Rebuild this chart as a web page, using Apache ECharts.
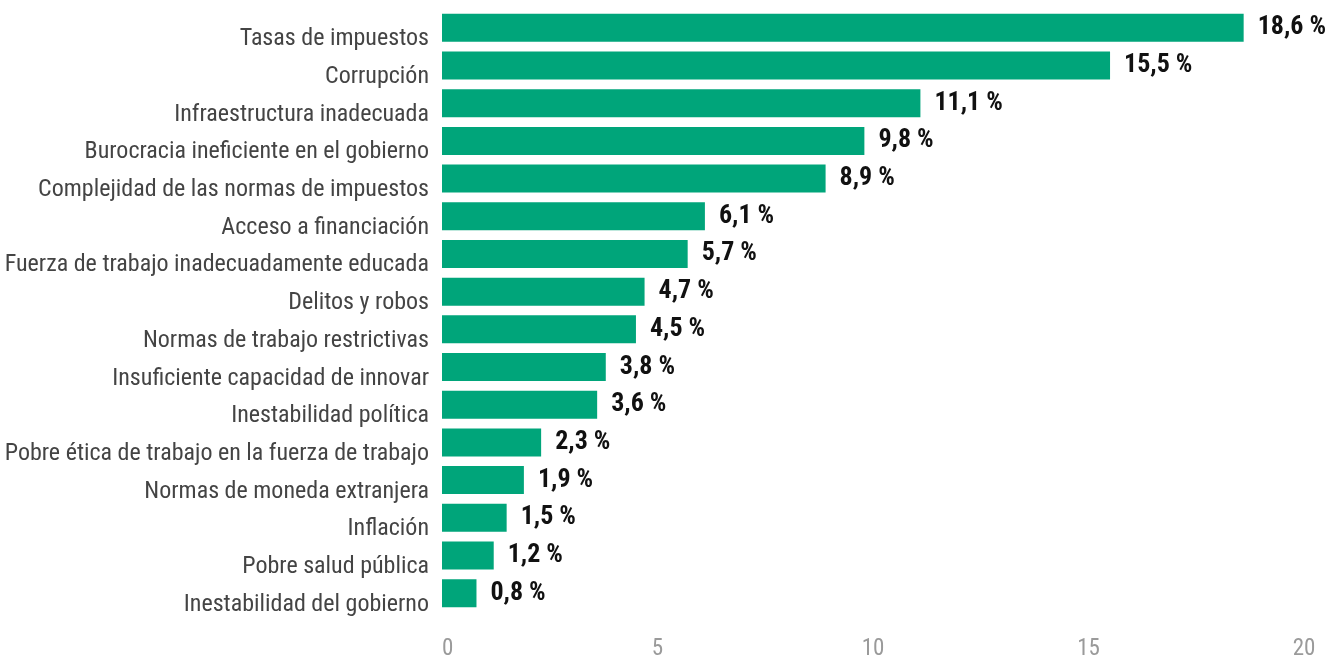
<!DOCTYPE html>
<html>
<head>
<meta charset="utf-8">
<script src="https://cdn.jsdelivr.net/npm/echarts@6/dist/echarts.min.js"></script>
<style>
  html, body { margin: 0; padding: 0; background: #fff; }
  #chart { width: 1332px; height: 656px; }
</style>
</head>
<body>
<div id="chart"></div>
<script>
// categorías de arriba a abajo
const categories = [
  'Tasas de impuestos',
  'Corrupción',
  'Infraestructura inadecuada',
  'Burocracia ineficiente en el gobierno',
  'Complejidad de las normas de impuestos',
  'Acceso a financiación',
  'Fuerza de trabajo inadecuadamente educada',
  'Delitos y robos',
  'Normas de trabajo restrictivas',
  'Insuficiente capacidad de innovar',
  'Inestabilidad política',
  'Pobre ética de trabajo en la fuerza de trabajo',
  'Normas de moneda extranjera',
  'Inflación',
  'Pobre salud pública',
  'Inestabilidad del gobierno'
]
const values = [18.6, 15.5, 11.1, 9.8, 8.9, 6.1, 5.7, 4.7, 4.5, 3.8, 3.6, 2.3, 1.9, 1.5, 1.2, 0.8]
const xTicks = [0, 5, 10, 15, 20]

const FONT = '"Liberation Sans Narrow", "Roboto Condensed", "Arial Narrow", Roboto, sans-serif'

const chart = echarts.init(document.getElementById('chart'))
chart.setOption({
  animation: false,
  grid: {
    left: 442,
    right: 28,
    top: 9,
    bottom: 44,
    outerBoundsMode: 'none' // no encoger la rejilla para meter las etiquetas
  },
  xAxis: {
    type: 'value',
    min: xTicks[0],
    max: xTicks[xTicks.length - 1],
    interval: 5,
    axisLine: { show: false },
    axisTick: { show: false },
    splitLine: { show: false },
    axisLabel: {
      margin: 26,
      color: '#9a9a9a',
      fontFamily: FONT,
      fontSize: 23,
      alignMinLabel: 'left'
    }
  },
  yAxis: {
    type: 'category',
    inverse: true,
    data: categories,
    axisLine: { show: false },
    axisTick: { show: false },
    splitLine: { show: false },
    axisLabel: {
      margin: 13,
      color: '#444444',
      fontFamily: FONT,
      fontSize: 24,
      verticalAlign: 'top',
      lineHeight: 23
    }
  },
  series: [{
    type: 'bar',
    data: values,
    barWidth: 28,
    itemStyle: { color: '#00a57a' },
    label: {
      show: true,
      position: 'right',
      distance: 14,
      color: '#111111',
      fontFamily: FONT,
      fontWeight: 'bold',
      fontSize: 26,
      formatter: (p) => p.value.toFixed(1).replace('.', ',') + ' %'
    }
  }]
})
</script>
</body>
</html>
